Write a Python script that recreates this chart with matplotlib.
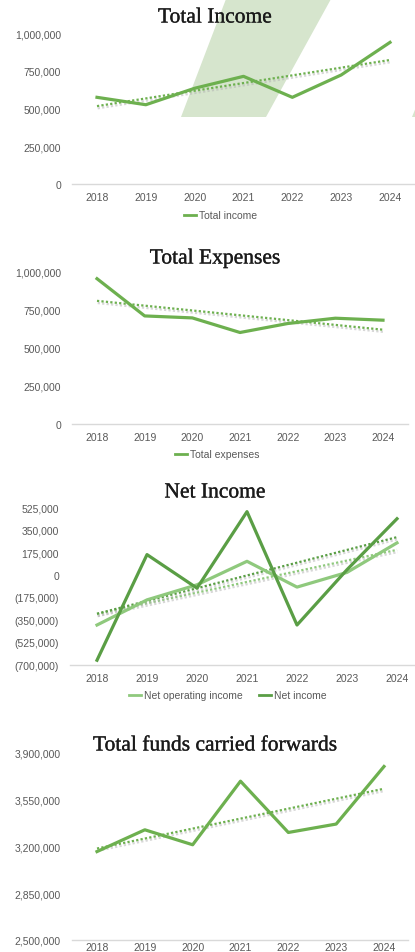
import numpy as np
import matplotlib
matplotlib.use("Agg")
import matplotlib.pyplot as plt
from matplotlib.patches import Polygon
import matplotlib.patheffects as pe
from matplotlib.ticker import FuncFormatter

years = ["2018", "2019", "2020", "2021", "2022", "2023", "2024"]
total_income = [574000, 525000, 634000, 713000, 574000, 722000, 938000]
total_expenses = [956000, 711000, 698000, 602000, 661000, 696000, 683000]
net_operating_income = [-390000, -195000, -78000, 104000, -96000, 18000, 247000]
net_income = [-663000, 156000, -104000, 489000, -390000, 39000, 434000]
funds_carried = [3162000, 3325000, 3213000, 3689000, 3305000, 3368000, 3799000]

W, H = 415, 953
fig = plt.figure(figsize=(W / 100, H / 100), dpi=100)
fig.patch.set_facecolor("white")

MAIN = "#6db04f"
DARK = "#5a9e45"
LIGHT = "#8fc97d"
TICKC = "#595959"
AXC = "#d9d9d9"
SHAPE = "#d6e5cd"
TICKFONT = "Liberation Sans"
TITLEFONT = "Liberation Serif"
TS = 7.5

# background axes for decorative shapes (pixel coords, y from top)
bg = fig.add_axes([0, 0, 1, 1], zorder=-5)
bg.set_xlim(0, W)
bg.set_ylim(H, 0)
bg.axis("off")
bg.add_patch(Polygon([(181, 118), (226, 0), (331, 0), (266, 118)], closed=True,
                     facecolor=SHAPE, edgecolor="none"))
bg.add_patch(Polygon([(412, 118), (460, 0), (470, 0), (416, 118)], closed=True,
                     facecolor=SHAPE, edgecolor="none"))


def make_ax(left, right, top, bottom, x0_px, x6_px, xpad=6):
    ax = fig.add_axes([left / W, 1 - bottom / H, (right - left) / W, (bottom - top) / H], zorder=1)
    ax.set_facecolor("none")
    step = (x6_px - x0_px) / 6
    ax.set_xlim((left - x0_px) / step, (right - x0_px) / step)
    for s in ["top", "right", "left"]:
        ax.spines[s].set_visible(False)
    ax.spines["bottom"].set_color(AXC)
    ax.spines["bottom"].set_linewidth(1.0)
    ax.tick_params(axis="both", length=0, colors=TICKC, labelsize=TS)
    ax.tick_params(axis="x", pad=xpad)
    ax.tick_params(axis="y", pad=8)
    ax.set_xticks(range(len(years)))
    ax.set_xticklabels(years, fontfamily=TICKFONT)
    return ax


def fmt_pos(v, _):
    return f"{v:,.0f}"


def fmt_paren(v, _):
    if v < 0:
        return f"({-v:,.0f})"
    return f"{v:,.0f}"


def trend(ax, vals, color):
    xx = np.arange(len(vals))
    a, b = np.polyfit(xx, vals, 1)
    ax.plot(xx, a * xx + b, color=color, lw=1.6, ls=(0, (1, 1)),
            path_effects=[pe.SimpleLineShadow(offset=(0.5, -1.6), shadow_color="#b0b0b0", alpha=0.5),
                          pe.Normal()], zorder=2)


def yfont(ax):
    for lb in ax.get_yticklabels():
        lb.set_fontfamily(TICKFONT)


def title(y, s):
    fig.text(215 / W, 1 - y / H, s, ha="center", va="center",
             fontfamily=TITLEFONT, fontsize=15.5, color="#1a1a1a",
             path_effects=[pe.withStroke(linewidth=0.2, foreground="#1a1a1a")])


def legend_item(x0, y, color, label):
    fig.lines.append(plt.Line2D([x0 / W, (x0 + 12) / W], [1 - y / H] * 2,
                                transform=fig.transFigure, color=color, lw=2))
    fig.text((x0 + 15) / W, 1 - y / H, label, ha="left", va="center",
             fontfamily=TICKFONT, fontsize=TS, color=TICKC)


x = np.arange(len(years))

# ---- Chart 1: Total Income
ax1 = make_ax(72, 415, 34, 185, 97, 390)
ax1.set_ylim(0, 1000000)
ax1.set_yticks([0, 250000, 500000, 750000, 1000000])
ax1.yaxis.set_major_formatter(FuncFormatter(fmt_pos))
yfont(ax1)
trend(ax1, total_income, MAIN)
ax1.plot(x, total_income, color=MAIN, lw=2.3, zorder=3)
title(19, "Total Income")
legend_item(184, 216, MAIN, "Total income")

# ---- Chart 2: Total Expenses
ax2 = make_ax(72, 408, 273, 425, 97, 383)
ax2.set_ylim(0, 1000000)
ax2.set_yticks([0, 250000, 500000, 750000, 1000000])
ax2.yaxis.set_major_formatter(FuncFormatter(fmt_pos))
yfont(ax2)
trend(ax2, total_expenses, MAIN)
ax2.plot(x, total_expenses, color=MAIN, lw=2.3, zorder=3)
title(260, "Total Expenses")
legend_item(175, 455, MAIN, "Total expenses")

# ---- Chart 3: Net Income
ax3 = make_ax(70, 415, 508, 666, 97, 397)
ax3.set_ylim(-700000, 525000)
ax3.set_yticks([-700000, -525000, -350000, -175000, 0, 175000, 350000, 525000])
ax3.yaxis.set_major_formatter(FuncFormatter(fmt_paren))
yfont(ax3)
trend(ax3, net_operating_income, LIGHT)
trend(ax3, net_income, DARK)
ax3.plot(x, net_operating_income, color=LIGHT, lw=2.3, zorder=3)
ax3.plot(x, net_income, color=DARK, lw=2.3, zorder=4)
title(494, "Net Income")
legend_item(129, 696, LIGHT, "Net operating income")
legend_item(259, 696, DARK, "Net income")

# ---- Chart 4: Total funds carried forwards
ax4 = make_ax(72, 408, 754, 941, 97, 384, xpad=1.5)
ax4.set_ylim(2500000, 3900000)
ax4.set_yticks([2500000, 2850000, 3200000, 3550000, 3900000])
ax4.yaxis.set_major_formatter(FuncFormatter(fmt_pos))
yfont(ax4)
trend(ax4, funds_carried, MAIN)
ax4.plot(x, funds_carried, color=MAIN, lw=2.3, zorder=3)
title(747, "Total funds carried forwards")

fig.savefig("out.png", dpi=100)
